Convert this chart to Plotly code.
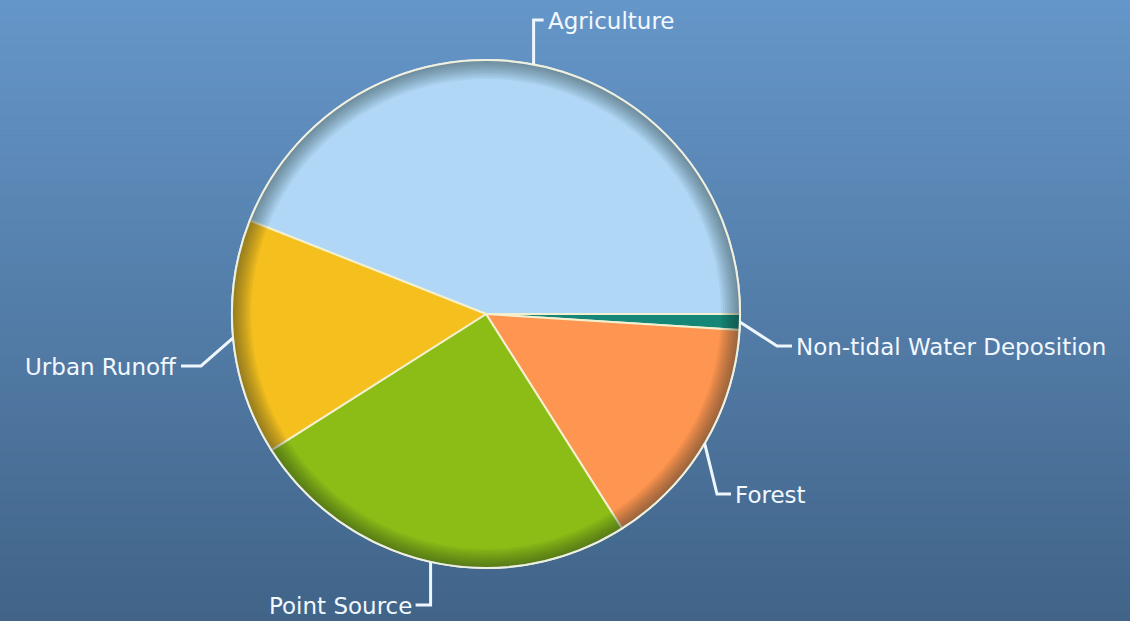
import math
import plotly.graph_objects as go

# ---- data ----
categories = ["Agriculture", "Non-tidal Water Deposition", "Forest", "Point Source", "Urban Runoff"]
values = [44, 1, 15, 25, 15]
colors = ["#B0D8F6", "#168676", "#FE9550", "#8CBD16", "#F5BF1E"]

# ---- layout geometry (pixels) ----
W, H = 1130, 621
CX, CY, R = 486, 314, 254

def px(x):
    return x / W

def py(y):
    return 1 - y / H

total = sum(values)
rotation = 90 - 360 * values[0] / total  # first slice ends at 3 o'clock
domain = dict(x=[px(CX - R), px(CX + R)], y=[py(CY + R), py(CY - R)])

fig = go.Figure(go.Pie(
    labels=categories, values=values, sort=False, direction="clockwise",
    rotation=rotation,
    marker=dict(colors=colors, line=dict(color="#F3F0CF", width=2)),
    textinfo="none", hoverinfo="label+percent", showlegend=False,
    domain=domain,
))

# inner rim shading (stacked translucent rings)
NR = 9
for k in range(NR):
    hole = 1 - 0.075 * (k + 1) / NR
    fig.add_trace(go.Pie(
        values=[1], labels=[""], sort=False, hole=hole,
        marker=dict(colors=["rgba(25,35,45,0.055)"], line=dict(width=0)),
        textinfo="none", hoverinfo="skip", showlegend=False, domain=domain,
    ))
# outer outline (single full slice, transparent fill)
fig.add_trace(go.Pie(
    values=[1], labels=[""], sort=False,
    marker=dict(colors=["rgba(0,0,0,0)"], line=dict(color="#EDF0E2", width=2)),
    textinfo="none", hoverinfo="skip", showlegend=False, domain=domain,
))

# background vertical gradient
top = (101, 150, 201)
bot = (65, 100, 136)
shapes = []
N = 124
for i in range(N):
    t = i / (N - 1)
    c = tuple(round(top[k] + (bot[k] - top[k]) * t) for k in range(3))
    shapes.append(dict(type="rect", xref="paper", yref="paper", layer="below",
                       x0=0, x1=1, y0=1 - (i + 1) / N - 0.002, y1=1 - i / N,
                       fillcolor="rgb(%d,%d,%d)" % c, line=dict(width=0)))

# leader lines + labels
label_geom = {
    "Agriculture": dict(elbow=(None, 20), dx=10, side="left"),
    "Non-tidal Water Deposition": dict(elbow=(777, 346), dx=15, side="left"),
    "Forest": dict(elbow=(717, 494), dx=14, side="left"),
    "Point Source": dict(elbow=(None, 605), dx=-15, side="right"),
    "Urban Runoff": dict(elbow=(201, 366), dx=-20, side="right"),
}

annotations = []
cum = 0
for cat, v in zip(categories, values):
    mid = math.radians(rotation + (cum + v / 2) * 360 / total)
    cum += v
    ex = CX + R * math.sin(mid)
    ey = CY - R * math.cos(mid)
    g = label_geom[cat]
    bx = ex if g["elbow"][0] is None else g["elbow"][0]
    by = g["elbow"][1]
    endx = bx + g["dx"]
    path = "M %f %f L %f %f L %f %f" % (px(ex), py(ey), px(bx), py(by), px(endx), py(by))
    shapes.append(dict(type="path", path=path, xref="paper", yref="paper",
                       line=dict(color="#EEF6FF", width=3)))
    if g["side"] == "left":
        tx, anchor = endx + 2, "left"
    else:
        tx, anchor = endx - 2, "right"
    annotations.append(dict(text=cat, x=px(tx), y=py(by + 1), xref="paper", yref="paper",
                            xanchor=anchor, yanchor="middle", showarrow=False,
                            font=dict(family="DejaVu Sans", size=23, color="#F2F8FF")))

fig.update_layout(
    width=W, height=H, margin=dict(l=0, r=0, t=0, b=0),
    paper_bgcolor="rgb(83,125,168)", plot_bgcolor="rgba(0,0,0,0)",
    shapes=shapes, annotations=annotations,
)

fig.write_html("out.html")
